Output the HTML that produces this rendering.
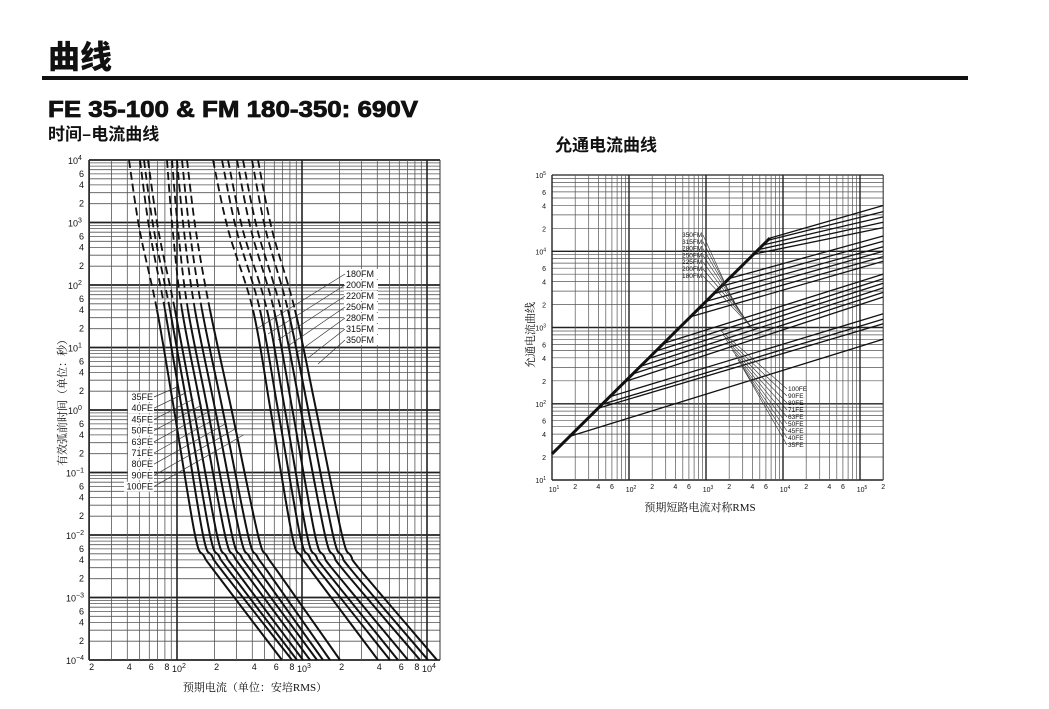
<!DOCTYPE html>
<html><head><meta charset="utf-8"><style>
html,body{margin:0;padding:0;background:#fff;}
svg{display:block;}
text{font-family:"Liberation Sans","Noto Sans CJK SC",sans-serif;fill:#111;}
.cj{font-family:"Liberation Serif","Noto Serif CJK SC",serif;}
</style></head><body>
<svg id="s" width="1049" height="709" viewBox="0 0 1049 709" xmlns="http://www.w3.org/2000/svg">
<defs>
<clipPath id="ctop"><rect x="80" y="150" width="380" height="160"/></clipPath>
<clipPath id="cbot"><rect x="80" y="310" width="380" height="360"/></clipPath>
</defs>
<text x="48" y="68" font-size="32" font-weight="bold" style="font-family:'Noto Sans CJK SC',sans-serif;font-weight:900">曲线</text>
<rect x="42" y="76" width="926" height="4" fill="#111"/>
<text x="48" y="117" font-size="23" font-weight="bold" stroke="#111" stroke-width="0.8" textLength="370" lengthAdjust="spacingAndGlyphs">FE 35-100 &amp; FM 180-350: 690V</text>
<text x="48" y="140" font-size="17" font-weight="bold" style="font-family:'Noto Sans CJK SC',sans-serif">时间–电流曲线</text>
<text x="555" y="151" font-size="17" font-weight="bold" style="font-family:'Noto Sans CJK SC',sans-serif">允通电流曲线</text>
<g id="g"></g>
</svg>
<script>
var G=document.getElementById('g'),h='';
function L(x1,y1,x2,y2,w,c){h+='<line x1="'+x1.toFixed(1)+'" y1="'+y1.toFixed(1)+'" x2="'+x2.toFixed(1)+'" y2="'+y2.toFixed(1)+'" stroke="'+(c||'#333')+'" stroke-width="'+w+'"/>';}
function T(x,y,s,fs,anc,extra){h+='<text x="'+x+'" y="'+y+'" font-size="'+fs+'" text-anchor="'+(anc||'start')+'" '+(extra||'')+'>'+s+'</text>';}
var lg=Math.log10;
function X(v){return 177+125*(lg(v)-2);} function Y(v){return 160+62.5*(4-lg(v));}
var x0=89,x1=440,y0=160,y1=660;
for(var k=-4;k<=4;k++){for(var m=1;m<=9;m++){var v=m*Math.pow(10,k);if(v>1e4&&m>1)break;var y=Y(v);
 L(x0,y,x1,y,m==1?1.8:0.8,m==1?'#222':'#555');}}
for(var k=1;k<=4;k++){for(var m=1;m<=9;m++){var v=m*Math.pow(10,k);if(v<20)continue;var x=X(v);if(x>x1+0.5)break;
 L(x,y0,x,y1,m==1?1.6:0.8,m==1?'#222':'#555');}}
L(x0,y0,x0,y1,1.5,'#222');L(x1,y0,x1,y1,1,'#333');
var yl=[[4,'4'],[3,'3'],[2,'2'],[1,'1'],[0,'0'],[-1,'−1'],[-2,'−2'],[-3,'−3'],[-4,'−4']];
yl.forEach(function(a){var y=Y(Math.pow(10,a[0]));T(a[0]<0?66:68,y+4,'10<tspan font-size="7" dy="-4">'+a[1]+'</tspan>',9);
 if(a[0]<4){[6,4,2].forEach(function(m){T(84,Y(m*Math.pow(10,a[0]))+3,m,9,'end');});}});
[[20,'2'],[40,'4'],[60,'6'],[80,'8'],[200,'2'],[400,'4'],[600,'6'],[800,'8'],[2000,'2'],[4000,'4'],[6000,'6'],[8000,'8']].forEach(function(a){T(X(a[0])+2,670,a[1],9,'middle');});
[[100,'2'],[1000,'3'],[10000,'4']].forEach(function(a){T(X(a[0])+2,672,'10<tspan font-size="7" dy="-4">'+a[1]+'</tspan>',9,'middle');});
T(255,691,'预期电流（单位：安培RMS）',11,'middle','class="cj"');
T(0,0,'有效弧前时间（单位：秒）',11,'middle','class="cj" transform="translate(66,400) rotate(-90)"');
function sp(p){var d='M'+p[0][0]+','+p[0][1];for(var i=0;i<p.length-1;i++){var a=p[i-1]||p[i],b=p[i],c=p[i+1],e=p[i+2]||c;
 d+=' C'+(b[0]+(c[0]-a[0])/6).toFixed(1)+','+(b[1]+(c[1]-a[1])/6).toFixed(1)+' '+(c[0]-(e[0]-b[0])/6).toFixed(1)+','+(c[1]-(e[1]-b[1])/6).toFixed(1)+' '+c[0]+','+c[1];}return d;}
function curve(a,b,c,d){var p=[[a,160],[a+(b-a)*0.38,230],[b,310],[b+(c-b)*0.45,410],[c,535],[c+9,556],[c+20,572],[d,660]];
 var s=sp(p);h+='<path d="'+s+'" fill="none" stroke="#111" stroke-width="1.8" stroke-dasharray="8,4" clip-path="url(#ctop)"/>';
 h+='<path d="'+s+'" fill="none" stroke="#111" stroke-width="2" clip-path="url(#cbot)"/>';}
var FE=[[129,157,195,282],[140,165,203,292],[144,170,210,297],[148,175,217,303],[167,182,225,310],[172,188,232,317],[177,195,240,323],[182,202,248,330],[187,210,258,340]];
var FM=[[213,253,292,378],[222,260,300,390],[228,267,307,398],[237,274,315,408],[243,281,325,420],[252,288,333,428],[258,295,342,437]];
FE.forEach(function(c){curve(c[0],c[1],c[2],c[3]);});
FM.forEach(function(c){curve(c[0],c[1],c[2],c[3]);});
['180FM','200FM','220FM','250FM','280FM','315FM','350FM'].forEach(function(s,i){var y=277+i*11;
 h+='<rect x="344" y="'+(y-8)+'" width="34" height="10" fill="#fff"/>';T(346,y,s,9);
 L(345,y-3,258+i*10,328+i*6,0.7,'#333');});
['35FE','40FE','45FE','50FE','63FE','71FE','80FE','90FE','100FE'].forEach(function(s,i){var y=400+i*11.2;
 h+='<rect x="'+(i==8?124:128)+'" y="'+(y-8)+'" width="'+(i==8?30:26)+'" height="10" fill="#fff"/>';T(153,y,s,9,'end');
 L(154,y-3,177+i*8.3,387+i*6,0.7,'#333');});
function RX(v){return 552+77*(v-1);} function RY(v){return 480-76.25*(v-1);}
var rx0=552,rx1=RX(lg(2e5)),ry0=RY(5),ry1=480;
for(var k=1;k<=4;k++){for(var m=1;m<=9;m++){var y=RY(lg(m)+k);L(rx0,y,rx1,y,m==1?1.4:0.7,m==1?'#222':'#555');}}
L(rx0,ry0,rx1,ry0,1.2,'#222');
for(var k=1;k<=5;k++){for(var m=1;m<=9;m++){var lv=lg(m)+k;if(lv>lg(2e5)+0.001)break;var x=RX(lv);L(x,ry0,x,ry1,m==1?1.4:0.7,m==1?'#222':'#555');}}
L(rx1,ry0,rx1,ry1,1,'#333');
[5,4,3,2,1].forEach(function(k){T(546,RY(k)+3,'10<tspan font-size="5" dy="-3">'+k+'</tspan>',7,'end');
 if(k<5)[6,4,2].forEach(function(m){T(546,RY(k+lg(m))+3,m,7,'end');});});
for(var k=1;k<=5;k++){T(RX(k)+2,492,'10<tspan font-size="5" dy="-3">'+k+'</tspan>',7,'middle');
 [2,4,6].forEach(function(m){var lv=k+lg(m);if(lv<=lg(2e5)+0.01)T(RX(lv),489,m,7,'middle');});}
T(700,511,'预期短路电流对称RMS',11,'middle','class="cj"');
T(0,0,'允通电流曲线',11,'middle','class="cj" transform="translate(534,335) rotate(-90)"');
var E=lg(2e5);
function RL(lx,ly,ex,ey,w){L(RX(lx),RY(ly),RX(ex),RY(ey),w||1.3,'#111');}
var kx=3.83;RL(1,1.342,kx,kx+0.342,3);
[[3.83,4.6],[3.8,4.52],[3.74,4.45],[3.68,4.38],[3.62,4.31]].forEach(function(a){RL(a[0],a[0]+0.342,E,a[1]);});
[[3.3,4.2],[3.2,4.13],[3.1,4.06],[3.0,4.0],[2.9,3.93],[2.8,3.87]].forEach(function(a){RL(a[0],a[0]+0.342,E,a[1]);});
[[2.45,3.7],[2.35,3.64],[2.25,3.58],[2.15,3.52],[2.05,3.46],[1.95,3.4],[1.75,3.18],[1.65,3.11],[1.6,3.05]].forEach(function(a){RL(a[0],a[0]+0.342,E,a[1]);});
RL(1.23,1.572,E,2.845);
['350FM','315FM','280FM','250FM','225FM','200FM','180FM'].forEach(function(s,i){var y=237+i*6.8;T(682,y,s,6.5);
 L(703,y-2,735+i*3,305+i*4,0.6,'#333');});
['100FE','90FE','80FE','71FE','63FE','50FE','45FE','40FE','35FE'].forEach(function(s,i){var y=391+i*7;T(788,y,s,6.5);
 L(787,y-2,720+i*3,330+i*5,0.6,'#333');});
G.innerHTML=h;
</script>
</body></html>
